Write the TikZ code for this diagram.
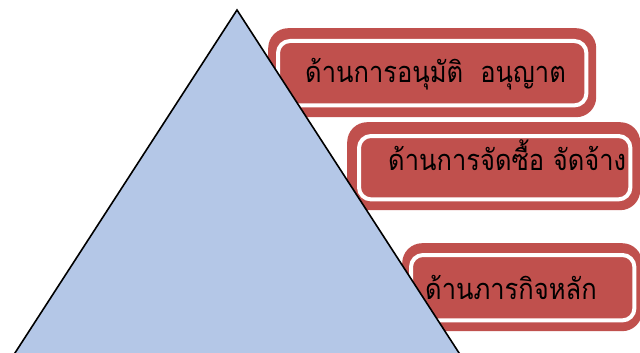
\documentclass[tikz,border=0pt]{standalone}
\usepackage{fontspec}
\newfontfamily\thaifont[Script=Thai,FakeStretch=0.88]{Loma}
\usetikzlibrary{calc}
\definecolor{boxred}{HTML}{C0504D}
\definecolor{triblue}{HTML}{B4C7E7}
\begin{document}
\begin{tikzpicture}[x=1pt,y=-1pt,
  outerbox/.style={fill=boxred, draw=none, rounded corners=20pt, inner sep=0pt, anchor=north west},
  innerbox/.style={draw=white, line width=4pt, rounded corners=12pt},
  lbl/.style={font=\thaifont\fontsize{29}{33}\selectfont, anchor=base west, inner sep=0pt, text=black}]
\useasboundingbox (0,0) rectangle (640,353);
% boxes
\node[outerbox, minimum width=328pt, minimum height=89pt] (b1) at (268,28) {};
\draw[innerbox] ($(b1.north west)+(10,13)$) rectangle ($(b1.south east)+(-10,-12)$);
\node[lbl] (t1) at (305,83) {ด้านการอนุมัติ\ \ อนุญาต};
\node[outerbox, minimum width=293pt, minimum height=88pt] (b2) at (347,122) {};
\draw[innerbox] ($(b2.north west)+(12,14)$) rectangle ($(b2.south east)+(-10,-11)$);
\node[lbl] (t2) at (388,170) {ด้านการจัดซื้อ จัดจ้าง};
\node[outerbox, minimum width=240pt, minimum height=88pt] (b3) at (402,243) {};
\draw[innerbox] ($(b3.north west)+(9,12)$) rectangle ($(b3.south east)+(-8,-11)$);
\node[lbl] (t3) at (425,299) {ด้านภารกิจหลัก};
% triangle
\coordinate (apex) at (237,10);
\coordinate (bl) at (13,356);
\coordinate (br) at (461,356);
\draw[fill=triblue, line width=1.6pt, line join=miter] (apex) -- (br) -- (bl) -- cycle;
\end{tikzpicture}
\end{document}
